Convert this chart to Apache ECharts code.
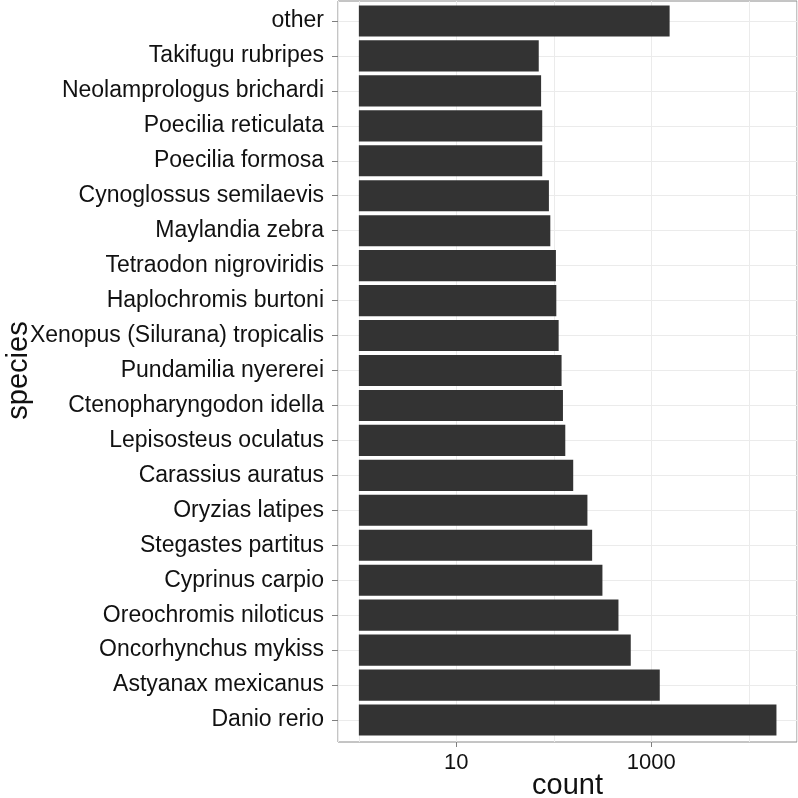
<!DOCTYPE html>
<html>
<head>
<meta charset="utf-8">
<script src="https://cdn.jsdelivr.net/npm/echarts@6/dist/echarts.min.js"></script>
<style>html,body{margin:0;padding:0;background:#fff}#c{width:798px;height:798px}</style>
</head>
<body>
<div id="c"></div>
<script>
// categories from bottom to top
const species = [
  "Danio rerio", "Astyanax mexicanus", "Oncorhynchus mykiss", "Oreochromis niloticus",
  "Cyprinus carpio", "Stegastes partitus", "Oryzias latipes", "Carassius auratus",
  "Lepisosteus oculatus", "Ctenopharyngodon idella", "Pundamilia nyererei",
  "Xenopus (Silurana) tropicalis", "Haplochromis burtoni", "Tetraodon nigroviridis",
  "Maylandia zebra", "Cynoglossus semilaevis", "Poecilia formosa", "Poecilia reticulata",
  "Neolamprologus brichardi", "Takifugu rubripes", "other"
];
const counts = [
  19200, 1220, 615, 460,
  315, 247, 221, 158,
  131, 124, 120,
  112, 106, 105,
  92, 89, 76, 76,
  74, 70, 1540
];
const xTickValues = [10, 1000];
const xMin = 0.611;
const xMax = 31190;

const font = "Liberation Sans, Arial, Helvetica, sans-serif";
const chart = echarts.init(document.getElementById('c'), null, {renderer: 'canvas'});
chart.setOption({
  animation: false,
  backgroundColor: '#ffffff',
  grid: [
    { // panel
      left: 338, right: 1, top: 1, bottom: 56,
      show: true, borderColor: '#8a8a8a', borderWidth: 1,
      containLabel: false, outerBoundsMode: 'none'
    },
    { // data area (ggplot-like 0.6 expansion on discrete axis)
      left: 338, right: 1, top: 3.5, bottom: 60.5,
      show: false, containLabel: false, outerBoundsMode: 'none'
    }
  ],
  xAxis: [
    {
      gridIndex: 0, type: 'log', logBase: 10, min: xMin, max: xMax, position: 'bottom',
      name: 'count', nameLocation: 'middle', nameGap: 29, nameMoveOverlap: false,
      nameTextStyle: {fontFamily: font, fontSize: 29, color: '#111'},
      axisLine: {show: false},
      axisTick: {show: true, length: 5, customValues: xTickValues, lineStyle: {color: '#7f7f7f'}},
      axisLabel: {show: true, customValues: xTickValues, margin: 10, fontFamily: font, fontSize: 22, color: '#111',
        formatter: v => String(Math.round(v))},
      splitLine: {show: false}
    },
    {
      gridIndex: 0, type: 'log', logBase: 10, min: xMin, max: xMax, position: 'bottom',
      axisLine: {show: false}, axisTick: {show: false}, axisLabel: {show: false},
      splitLine: {show: true, lineStyle: {color: '#ebebeb', width: 1}}
    },
    {
      gridIndex: 1, type: 'log', logBase: 10, min: xMin, max: xMax, position: 'bottom',
      axisLine: {show: false}, axisTick: {show: false}, axisLabel: {show: false},
      splitLine: {show: false}
    }
  ],
  yAxis: [
    {
      gridIndex: 1, type: 'category', data: species,
      name: 'species', nameLocation: 'middle', nameGap: 305, nameMoveOverlap: false,
      nameTextStyle: {fontFamily: font, fontSize: 29, color: '#111'},
      axisLine: {show: false},
      axisTick: {show: true, alignWithLabel: true, length: 6, lineStyle: {color: '#7f7f7f'}},
      axisLabel: {margin: 14, fontFamily: font, fontSize: 23, color: '#111', interval: 0},
      splitLine: {show: true, alignWithLabel: true, lineStyle: {color: '#ebebeb', width: 1}}
    },
    {
      gridIndex: 0, type: 'category', data: species,
      axisLine: {show: false}, axisTick: {show: false}, axisLabel: {show: false},
      splitLine: {show: false}
    }
  ],
  series: [{
    type: 'bar', xAxisIndex: 2, yAxisIndex: 0, data: counts,
    barWidth: '89%',
    itemStyle: {color: '#333333'}
  }]
});
</script>
</body>
</html>
